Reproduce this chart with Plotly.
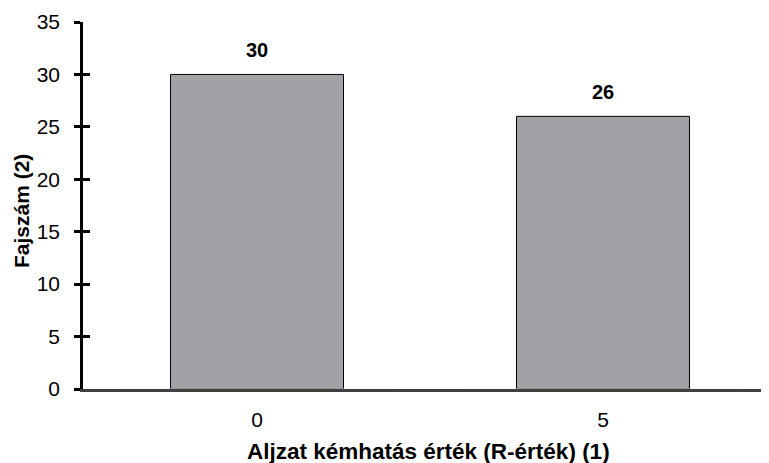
import plotly.graph_objects as go

categories = ["0", "5"]
values = [30, 26]
y_ticks = [0, 5, 10, 15, 20, 25, 30, 35]
x_title = "Aljzat kémhatás érték (R-érték) (1)"
y_title = "Fajszám (2)"

FONT = "Liberation Sans, Arial, sans-serif"

fig = go.Figure()
fig.add_trace(go.Bar(
    x=categories, y=values,
    marker=dict(color="#A0A2A5", line=dict(color="black", width=1)),
    width=0.5,
    showlegend=False,
))
# invisible trace to drive an overlaid y axis that draws the inner half of the ticks
fig.add_trace(go.Bar(x=categories, y=[0, 0], yaxis="y2", showlegend=False,
                     hoverinfo="skip", marker=dict(color="rgba(0,0,0,0)")))

annotations = [
    dict(x=i, y=v, xref="x", yref="y", text=f"<b>{v}</b>", showarrow=False,
         xanchor="center", yanchor="bottom", yshift=11, xshift=0,
         font=dict(size=20, family=FONT, color="black"))
    for i, v in enumerate(values)
]
annotations.append(dict(
    text=f"<b>{x_title}</b>", xref="paper", yref="paper", x=0.505, y=-0.169,
    xanchor="center", yanchor="middle", showarrow=False,
    font=dict(size=22.5, family=FONT, color="black"),
))
annotations.append(dict(
    text=f"<b>{y_title}</b>", xref="paper", yref="paper", x=-0.0905, y=0.485,
    xanchor="center", yanchor="middle", showarrow=False, textangle=-90,
    font=dict(size=21, family=FONT, color="black"),
))

fig.update_layout(
    width=769, height=463,
    margin=dict(l=75, r=9, t=14, b=82),
    plot_bgcolor="white", paper_bgcolor="white",
    font=dict(family=FONT, color="black"),
    barmode="overlay",
    xaxis=dict(
        type="category", range=[-0.503, 1.477], automargin=False,
        showline=True, linecolor="#404040", linewidth=3,
        ticks="", showgrid=False, zeroline=False,
        tickfont=dict(size=21, family=FONT), ticklabelstandoff=10,
    ),
    yaxis=dict(
        range=[0, 35], tickvals=y_ticks, automargin=False,
        showline=True, linecolor="black", linewidth=2.5,
        ticks="outside", ticklen=6, tickwidth=2.5, tickcolor="black",
        showgrid=False, zeroline=False,
        tickfont=dict(size=21, family=FONT), ticklabelstandoff=10,
    ),
    yaxis2=dict(
        overlaying="y", side="left", range=[0, 35], tickvals=y_ticks, automargin=False,
        ticks="inside", ticklen=7, tickwidth=2.5, tickcolor="black",
        showticklabels=False, showgrid=False, zeroline=False, showline=False,
    ),
    annotations=annotations,
)

fig.write_html("out.html")
